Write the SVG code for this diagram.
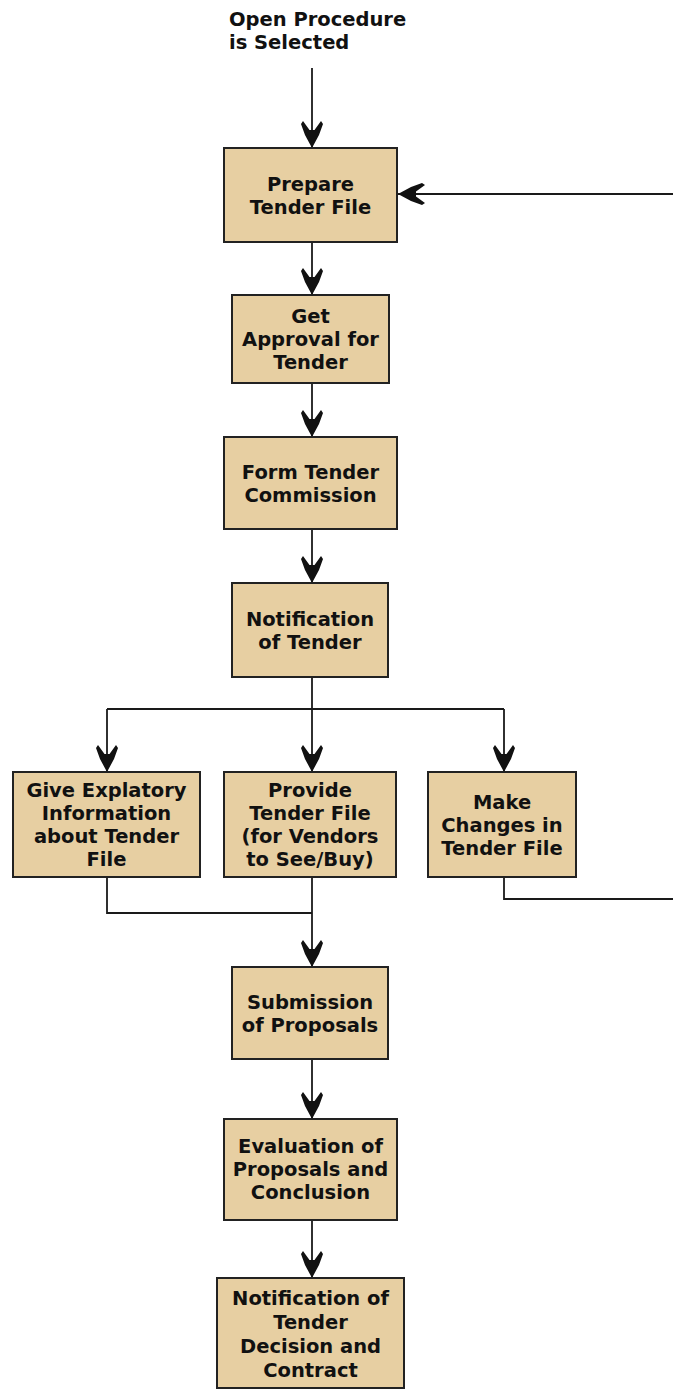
<svg xmlns="http://www.w3.org/2000/svg" width="673" height="1390" viewBox="0 0 673 1390">
  <defs>
    <style>
      .box { fill: #E7CFA2; stroke: #222; stroke-width: 2; }
      .lbl { font-family: "DejaVu Sans", Verdana, sans-serif; font-weight: bold; font-size: 19.5px; fill: #111; text-anchor: middle; }
      .title { font-family: "DejaVu Sans", Verdana, sans-serif; font-weight: bold; font-size: 19.5px; fill: #111; }
      .wire { fill: none; stroke: #1a1a1a; stroke-width: 1.8; }
    </style>
    <!-- barbed dart arrowhead, tip at the path end -->
    <marker id="dart" markerUnits="userSpaceOnUse" viewBox="-29 -12 31 24" refX="0" refY="0" markerWidth="31" markerHeight="24" orient="auto">
      <path d="M0,0 L-13,-7 L-24,-11 L-27,-9 L-18,-2.5 L-18,2.5 L-27,9 L-24,11 L-13,7 Z" fill="#111"/>
    </marker>
  </defs>

  <rect width="673" height="1390" fill="#fff"/>

  <!-- start label -->
  <g id="start">
    <text class="title" x="229" y="26">Open Procedure</text>
    <text class="title" x="229" y="49">is Selected</text>
  </g>

  <!-- connectors -->
  <g id="connectors">
    <path class="wire" d="M312,68 V148" marker-end="url(#dart)"/>
    <path class="wire" d="M312,242 V295" marker-end="url(#dart)"/>
    <path class="wire" d="M312,383 V437" marker-end="url(#dart)"/>
    <path class="wire" d="M312,529 V583" marker-end="url(#dart)"/>
    <!-- fan-out after notification -->
    <path class="wire" d="M312,677 V709 M107,709 H504"/>
    <path class="wire" d="M107,709 V772" marker-end="url(#dart)"/>
    <path class="wire" d="M312,709 V772" marker-end="url(#dart)"/>
    <path class="wire" d="M504,709 V772" marker-end="url(#dart)"/>
    <!-- merge into submission -->
    <path class="wire" d="M107,877 V913 H312"/>
    <path class="wire" d="M312,877 V967" marker-end="url(#dart)"/>
    <!-- loop back from changes to tender file preparation -->
    <path class="wire" d="M504,877 V899 H690 V194 H398" marker-end="url(#dart)"/>
    <path class="wire" d="M312,1059 V1119" marker-end="url(#dart)"/>
    <path class="wire" d="M312,1220 V1278" marker-end="url(#dart)"/>
  </g>

  <g id="prepare">
    <rect class="box" x="224" y="148" width="173" height="94"/>
    <text class="lbl" x="310.5" y="191">Prepare</text>
    <text class="lbl" x="310.5" y="214">Tender File</text>
  </g>

  <g id="approval">
    <rect class="box" x="232" y="295" width="157" height="88"/>
    <text class="lbl" x="310.5" y="323">Get</text>
    <text class="lbl" x="310.5" y="346">Approval for</text>
    <text class="lbl" x="310.5" y="369">Tender</text>
  </g>

  <g id="commission">
    <rect class="box" x="224" y="437" width="173" height="92"/>
    <text class="lbl" x="310.5" y="478.5">Form Tender</text>
    <text class="lbl" x="310.5" y="501.5">Commission</text>
  </g>

  <g id="notification">
    <rect class="box" x="232" y="583" width="156" height="94"/>
    <text class="lbl" x="310" y="626">Notification</text>
    <text class="lbl" x="310" y="649">of Tender</text>
  </g>

  <g id="explanatory">
    <rect class="box" x="13" y="772" width="187" height="105"/>
    <text class="lbl" x="106.5" y="797">Give Explatory</text>
    <text class="lbl" x="106.5" y="820">Information</text>
    <text class="lbl" x="106.5" y="843">about Tender</text>
    <text class="lbl" x="106.5" y="866">File</text>
  </g>

  <g id="provide">
    <rect class="box" x="224" y="772" width="172" height="105"/>
    <text class="lbl" x="310" y="797">Provide</text>
    <text class="lbl" x="310" y="820">Tender File</text>
    <text class="lbl" x="310" y="843">(for Vendors</text>
    <text class="lbl" x="310" y="866">to See/Buy)</text>
  </g>

  <g id="changes">
    <rect class="box" x="428" y="772" width="148" height="105"/>
    <text class="lbl" x="502" y="808.5">Make</text>
    <text class="lbl" x="502" y="831.5">Changes in</text>
    <text class="lbl" x="502" y="854.5">Tender File</text>
  </g>

  <g id="submission">
    <rect class="box" x="232" y="967" width="156" height="92"/>
    <text class="lbl" x="310" y="1008.5">Submission</text>
    <text class="lbl" x="310" y="1031.5">of Proposals</text>
  </g>

  <g id="evaluation">
    <rect class="box" x="224" y="1119" width="173" height="101"/>
    <text class="lbl" x="310.5" y="1153">Evaluation of</text>
    <text class="lbl" x="310.5" y="1176">Proposals and</text>
    <text class="lbl" x="310.5" y="1199">Conclusion</text>
  </g>

  <g id="decision">
    <rect class="box" x="217" y="1278" width="187" height="110"/>
    <text class="lbl" x="310.5" y="1305">Notification of</text>
    <text class="lbl" x="310.5" y="1329">Tender</text>
    <text class="lbl" x="310.5" y="1353">Decision and</text>
    <text class="lbl" x="310.5" y="1377">Contract</text>
  </g>
</svg>
